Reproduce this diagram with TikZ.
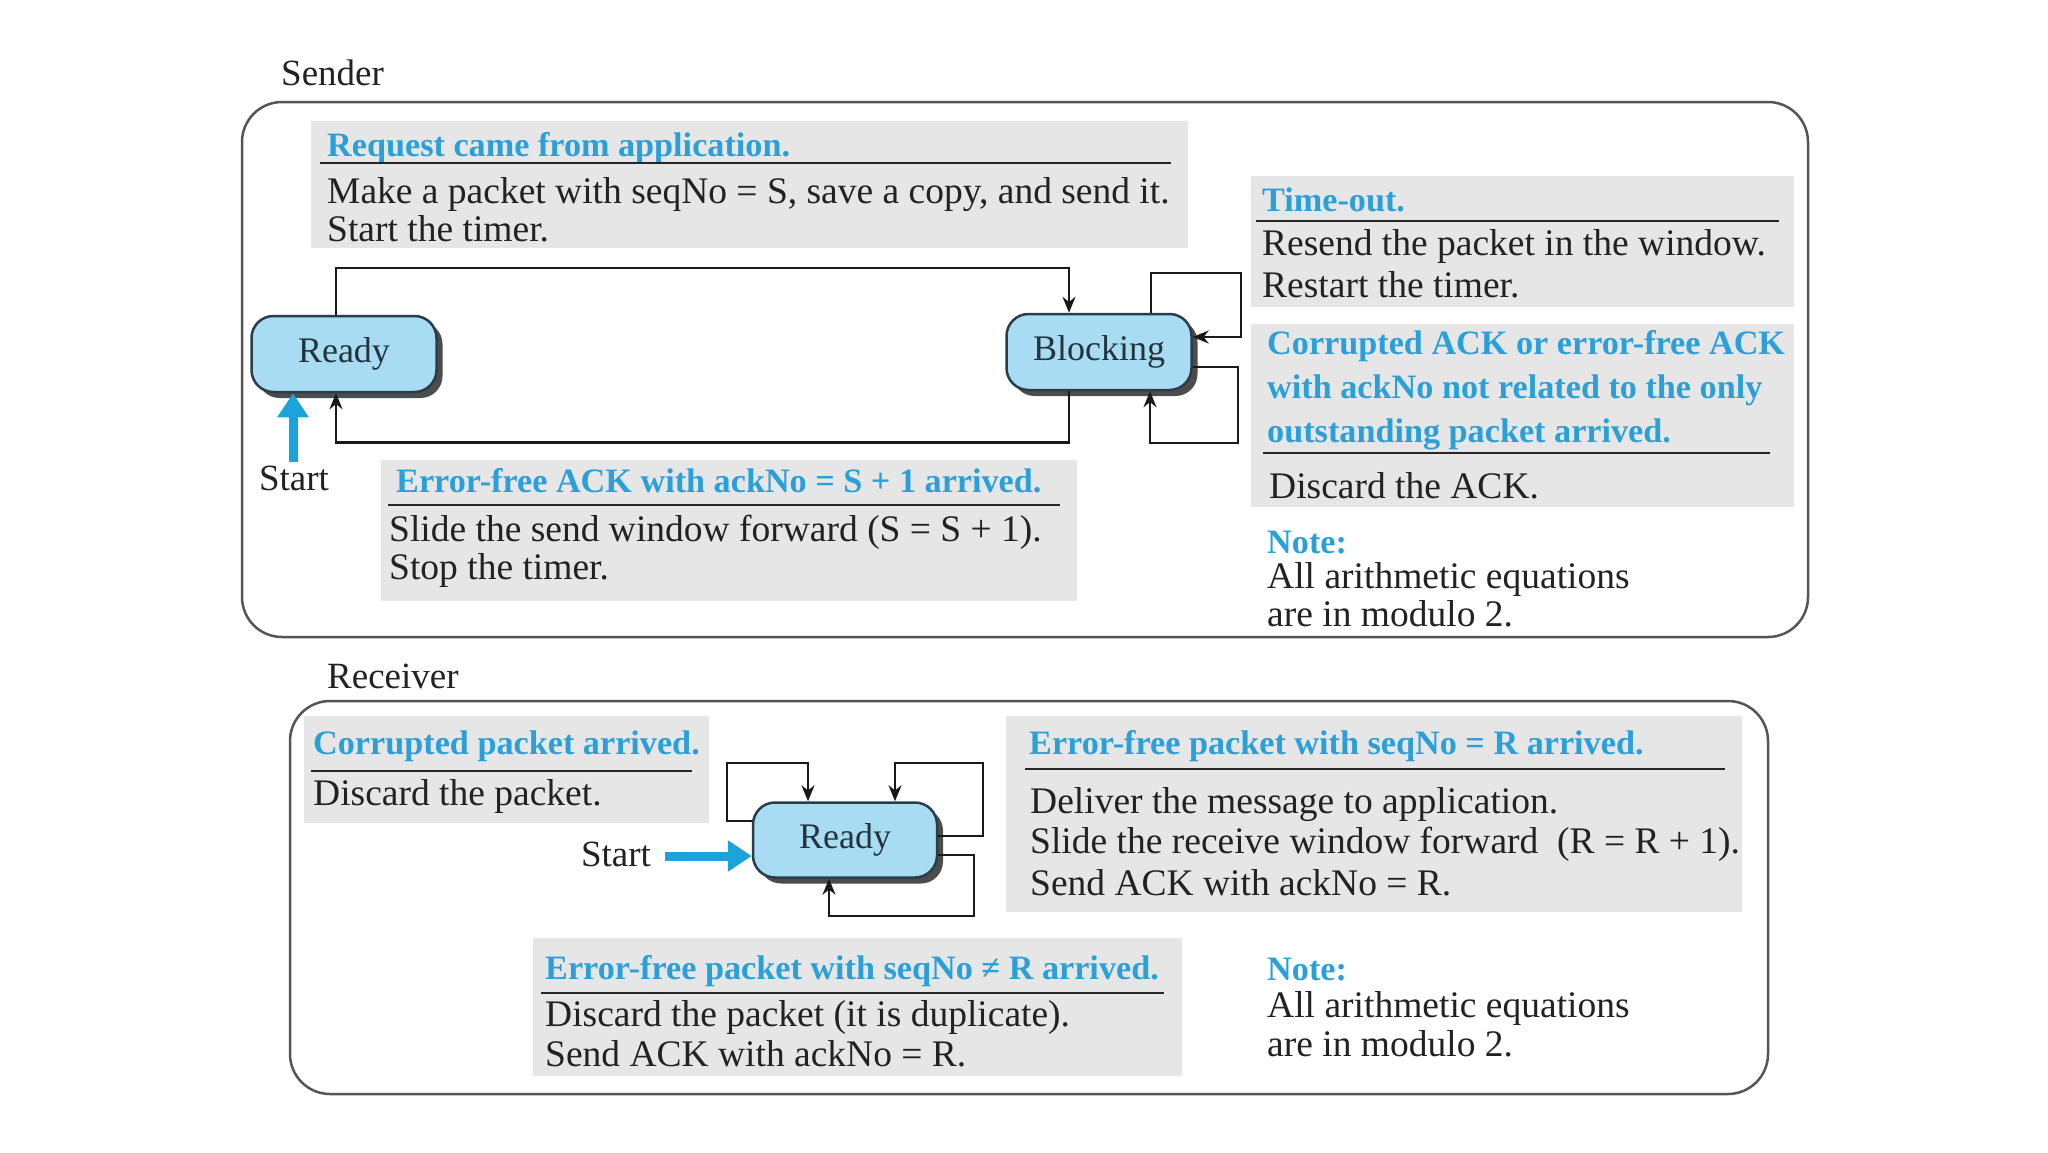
\documentclass[tikz,border=0pt]{standalone}
\usepackage{fontspec}
\setmainfont{Liberation Serif}
\usetikzlibrary{arrows.meta,shadows,calc}
\definecolor{titleblue}{HTML}{2BA0D8}
\definecolor{boxgray}{HTML}{E6E6E6}
\definecolor{statefill}{HTML}{A8DCF3}
\definecolor{stateline}{HTML}{2A3D4A}
\definecolor{framegray}{HTML}{555555}
\definecolor{textcol}{HTML}{222222}
\definecolor{startcol}{HTML}{1CA3DB}
\begin{document}
\begin{tikzpicture}[x=1pt,y=1pt,
 body/.style={anchor=base west, inner sep=0pt, font=\fontsize{37.5}{40}\selectfont, text=textcol},
 ttl/.style={anchor=base west, inner sep=0pt, font=\fontsize{34.2}{40}\selectfont\bfseries, text=titleblue},
 graybox/.style={fill=boxgray, draw=none},
 rulel/.style={line width=2.5pt, draw=black!85},
 frame/.style={draw=framegray, line width=2.5pt, rounded corners=40pt},
 state/.style={draw=stateline, line width=2.5pt, fill=statefill, rounded corners=22pt,
   minimum width=185pt, minimum height=76pt, inner sep=0pt,
   font=\fontsize{36}{40}\selectfont, text=stateline!85!black,
   drop shadow={shadow xshift=6pt, shadow yshift=-6pt, fill=black!70, opacity=1}},
 conn/.style={draw=black!90, line width=2.5pt, -{Stealth[length=16pt,width=13pt]}},
 startarrow/.style={draw=startcol, line width=9pt, -{Triangle[length=24pt,width=30pt]}},
 lbl/.style={inner sep=0pt, font=\fontsize{37}{40}\selectfont, text=textcol},
]
\useasboundingbox (0,0) rectangle (2048,-1152);

% ---------------- Sender ----------------
\node[lbl, anchor=base west] (senderlbl) at (281,-85) {Sender};
\draw[frame] (242,-102) rectangle (1808,-637);

% Request box
\fill[graybox] (311,-121) rectangle (1188,-248);
\node[ttl] (reqT) at (327,-156) {Request came from application.};
\draw[rulel] (320,-163) -- (1171,-163);
\node[body] (reqB1) at (327,-203) {Make a packet with seqNo = S, save a copy, and send it.};
\node[body] (reqB2) at (327,-241) {Start the timer.};

% Time-out box
\fill[graybox] (1251,-176) rectangle (1794,-307);
\node[ttl] (toT) at (1262,-211) {Time-out.};
\draw[rulel] (1256,-221) -- (1779,-221);
\node[body] (toB1) at (1262,-255) {Resend the packet in the window.};
\node[body] (toB2) at (1262,-297) {Restart the timer.};

% Corrupted ACK box
\fill[graybox] (1251,-324) rectangle (1794,-507);
\node[ttl] (caT1) at (1267,-354) {Corrupted ACK or error-free ACK};
\node[ttl] (caT2) at (1267,-398) {with ackNo not related to the only};
\node[ttl] (caT3) at (1267,-442) {outstanding packet arrived.};
\draw[rulel] (1263,-453) -- (1770,-453);
\node[body] (caB1) at (1269,-498) {Discard the ACK.};

% Note (sender)
\node[ttl] (n1T) at (1267,-553) {Note:};
\node[body] (n1B1) at (1267,-588) {All arithmetic equations};
\node[body] (n1B2) at (1267,-626) {are in modulo 2.};

% Error-free ACK box
\fill[graybox] (381,-460) rectangle (1077,-601);
\node[ttl] (efT) at (396,-492) {Error-free ACK with ackNo = S + 1 arrived.};
\draw[rulel] (388,-505) -- (1060,-505);
\node[body] (efB1) at (389,-541) {Slide the send window forward (S = S + 1).};
\node[body] (efB2) at (389,-579) {Stop the timer.};

% States
\node[state] (rs) at (344,-354) {Ready};
\node[state] (bl) at (1099,-352) {Blocking};

% Transitions
\draw[conn] ([xshift=-8pt]rs.north) -- ++(0,47) -| ([xshift=-30pt]bl.north);
\draw[conn] ([xshift=-30pt]bl.south) -- ++(0,-51) -| ([xshift=-8pt]rs.south);
\coordinate (bt) at (1241,-273);
\draw[conn] ([xshift=52pt]bl.north) |- (bt) |- ([yshift=15pt]bl.east);
\coordinate (bb) at (1238,-443);
\draw[conn] ([yshift=-15pt]bl.east) -| (bb) -| ([xshift=51pt]bl.south);

% Start (sender)
\coordinate (sst) at (293,-462);
\draw[startarrow] (sst) -- (sst |- rs.south);
\node[lbl] (sstart) at (294,-478) {Start};

% ---------------- Receiver ----------------
\node[lbl, anchor=base west] (recvlbl) at (327,-688) {Receiver};
\draw[frame] (290,-701) rectangle (1768,-1094);

% Corrupted packet
\fill[graybox] (304,-716) rectangle (709,-823);
\node[ttl] (cpT) at (313,-754) {Corrupted packet arrived.};
\draw[rulel] (311,-771) -- (692,-771);
\node[body] (cpB) at (313,-805) {Discard the packet.};

% seqNo = R
\fill[graybox] (1006,-716) rectangle (1742,-912);
\node[ttl] (eqT) at (1029,-754) {Error-free packet with seqNo = R arrived.};
\draw[rulel] (1025,-769) -- (1725,-769);
\node[body] (eqB1) at (1030,-813) {Deliver the message to application.};
\node[body] (eqB2) at (1030,-853) {Slide the receive window forward\ \ (R = R + 1).};
\node[body] (eqB3) at (1030,-895) {Send ACK with ackNo = R.};

% seqNo != R
\fill[graybox] (533,-938) rectangle (1182,-1076);
\node[ttl] (neT) at (545,-979) {Error-free packet with seqNo ≠ R arrived.};
\draw[rulel] (541,-993) -- (1164,-993);
\node[body] (neB1) at (545,-1026) {Discard the packet (it is duplicate).};
\node[body] (neB2) at (545,-1066) {Send ACK with ackNo = R.};

% Note (receiver)
\node[ttl] (n2T) at (1267,-980) {Note:};
\node[body] (n2B1) at (1267,-1017) {All arithmetic equations};
\node[body] (n2B2) at (1267,-1056) {are in modulo 2.};

% Receiver state
\node[state, minimum width=184pt, minimum height=75pt] (rr) at (845,-840) {Ready};

\coordinate (r1) at (727,-763);
\draw[conn] ([yshift=19pt]rr.west) -| (r1) -| ([xshift=-37pt]rr.north);
\coordinate (r2) at (983,-763);
\draw[conn] ([yshift=4pt]rr.east) -| (r2) -| ([xshift=50pt]rr.north);
\coordinate (r3) at (974,-916);
\draw[conn] ([yshift=-15pt]rr.east) -| (r3) -| ([xshift=-16pt]rr.south);

% Start (receiver)
\coordinate (rst) at (665,-856);
\draw[startarrow] (rst) -- (rst -| rr.west);
\node[lbl] (rstart) at (616,-854) {Start};
\end{tikzpicture}
\end{document}
